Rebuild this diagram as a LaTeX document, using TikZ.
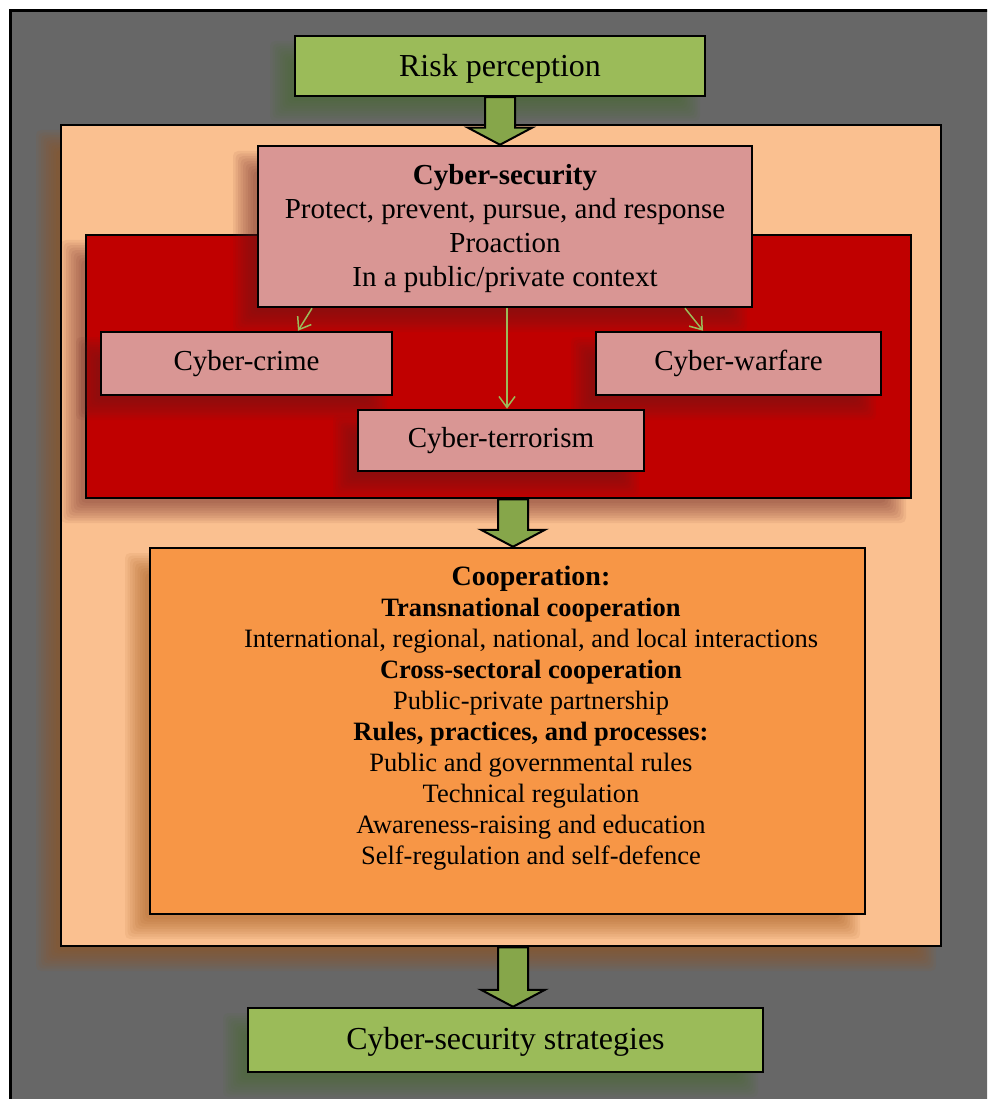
\documentclass[tikz,border=0pt]{standalone}
\usepackage{fontspec}
\setmainfont{Liberation Serif}
\usetikzlibrary{arrows.meta,calc}
\definecolor{bggray}{RGB}{103,103,103}
\definecolor{leaf}{HTML}{9BBB59}
\definecolor{leaflight}{HTML}{A6C663}
\definecolor{leafdark}{HTML}{86A64A}
\definecolor{peach}{HTML}{FAC090}
\definecolor{crimson}{HTML}{C00000}
\definecolor{rosy}{HTML}{D99694}
\definecolor{tangerine}{HTML}{F79646}
\definecolor{shgreen}{RGB}{70,105,40}
\definecolor{shpeach}{RGB}{158,80,20}
\definecolor{shred}{RGB}{105,32,32}
\definecolor{shorange}{RGB}{155,76,14}

% blurred drop shadow: x1 y1 x2 y2 (px, y downwards) colour
\newcommand\softshadow[5]{%
  \foreach \e in {10,7.5,5,2.5,0,-2.5,-5,-7.5,-10}{%
    \fill[#5, opacity=0.075, rounded corners=5pt]
      ({#1-15-(\e)},{#2+15-(\e)}) rectangle ({#3-15+(\e)},{#4+15+(\e)});
  }}
% block arrow from coordinate #1 (top) to coordinate #2 (tip)
\newcommand\fatarrow[2]{%
  \draw[blockarrow] ($(#1)+(-15,0)$) -- ($(#2)+(-15,-17)$) -- ($(#2)+(-32,-17)$)
    -- (#2) -- ($(#2)+(32,-17)$) -- ($(#2)+(15,-17)$) -- ($(#1)+(15,0)$) -- cycle;}

\tikzset{
  boxbase/.style={draw=black, line width=2.5pt, inner sep=0pt, align=center, text=black},
  greenbox/.style={boxbase, fill=leaf, font=\fontsize{32}{38}\selectfont},
  pinkbox/.style={boxbase, fill=rosy, font=\fontsize{29}{34}\selectfont},
  peachbox/.style={boxbase, fill=peach},
  redbox/.style={boxbase, fill=crimson},
  coopbox/.style={boxbase, fill=tangerine},
  cooptext/.style={align=center, inner sep=0pt, font=\fontsize{26.5}{31}\selectfont},
  thinarrow/.style={draw=leaf, line width=1.5pt, -{Straight Barb[length=11pt,width=16pt]}},
  blockarrow/.style={draw=black, line width=2pt, line join=miter,
    left color=leafdark, middle color=leaflight, right color=leafdark},
}

\begin{document}
\begin{tikzpicture}[x=1pt,y=-1pt]
\useasboundingbox (0,0) rectangle (987,1099);
\clip (0,0) rectangle (987,1099);
\fill[white] (0,0) rectangle (987,1099);
\draw[fill=bggray, line width=3.5pt] (10.5,10.5) rectangle (1010,1120);

% peach container
\softshadow{61}{125}{941}{946}{shpeach}
\node[peachbox, minimum width=880pt, minimum height=821pt] (peach) at (501,535.5) {};

% red container
\softshadow{86}{235}{911}{498}{shred}
\node[redbox, minimum width=825pt, minimum height=263pt] (red) at (498.5,366.5) {};

% cyber-security
\softshadow{258}{146}{752}{307}{shred}
\node[pinkbox, minimum width=494pt, minimum height=161pt] (cs) at (505,226.5) {};
\node[align=center, inner sep=0pt, font=\fontsize{29}{34}\selectfont] (cstxt) at (505,228.5)
  {\textbf{Cyber-security}\\Protect, prevent, pursue, and response\\Proaction\\In a public/private context};

\softshadow{101}{332}{392}{395}{shred}
\node[pinkbox, minimum width=291pt, minimum height=63pt] (crime) at (246.5,363.5) {Cyber-crime};
\softshadow{596}{332}{881}{395}{shred}
\node[pinkbox, minimum width=285pt, minimum height=63pt] (warfare) at (738.5,363.5) {Cyber-warfare};
\softshadow{358}{410}{644}{471}{shred}
\node[pinkbox, minimum width=286pt, minimum height=61pt] (terror) at (501,440.5) {Cyber-terrorism};

% cooperation
\softshadow{150}{548}{865}{914}{shorange}
\node[coopbox, minimum width=715pt, minimum height=366pt] (coop) at (507.5,731) {};
\node[cooptext] (cooptxt) at (531,718) {%
  {\fontsize{28}{31}\selectfont\textbf{Cooperation:}}\\
  \textbf{Transnational cooperation}\\
  International, regional, national, and local interactions\\
  \textbf{Cross-sectoral cooperation}\\
  Public-private partnership\\
  \textbf{Rules, practices, and processes:}\\
  Public and governmental rules\\
  Technical regulation\\
  Awareness-raising and education\\
  Self-regulation and self-defence};

% green boxes
\softshadow{295}{36}{705}{96}{shgreen}
\node[greenbox, minimum width=410pt, minimum height=60pt, text height=28pt] (risk) at (500,66) {Risk perception};
\softshadow{248}{1008}{763}{1072}{shgreen}
\node[greenbox, minimum width=515pt, minimum height=64pt, text height=26pt] (strat) at (505.5,1040) {Cyber-security strategies};

% thin arrows
\draw[thinarrow] (312,0 |- cs.south) -- (298,0 |- crime.north);
\draw[thinarrow] (507,0 |- cs.south) -- (507,0 |- terror.north);
\draw[thinarrow] (685,0 |- cs.south) -- (703,0 |- warfare.north);

% block arrows
\coordinate (a1s) at (500,0 |- risk.south);
\coordinate (a1e) at (500,0 |- cs.north);
\coordinate (a2s) at (513,0 |- red.south);
\coordinate (a2e) at (513,0 |- coop.north);
\coordinate (a3s) at (513,0 |- peach.south);
\coordinate (a3e) at (513,0 |- strat.north);
\fatarrow{a1s}{a1e}
\fatarrow{a2s}{a2e}
\fatarrow{a3s}{a3e}
\end{tikzpicture}
\end{document}
